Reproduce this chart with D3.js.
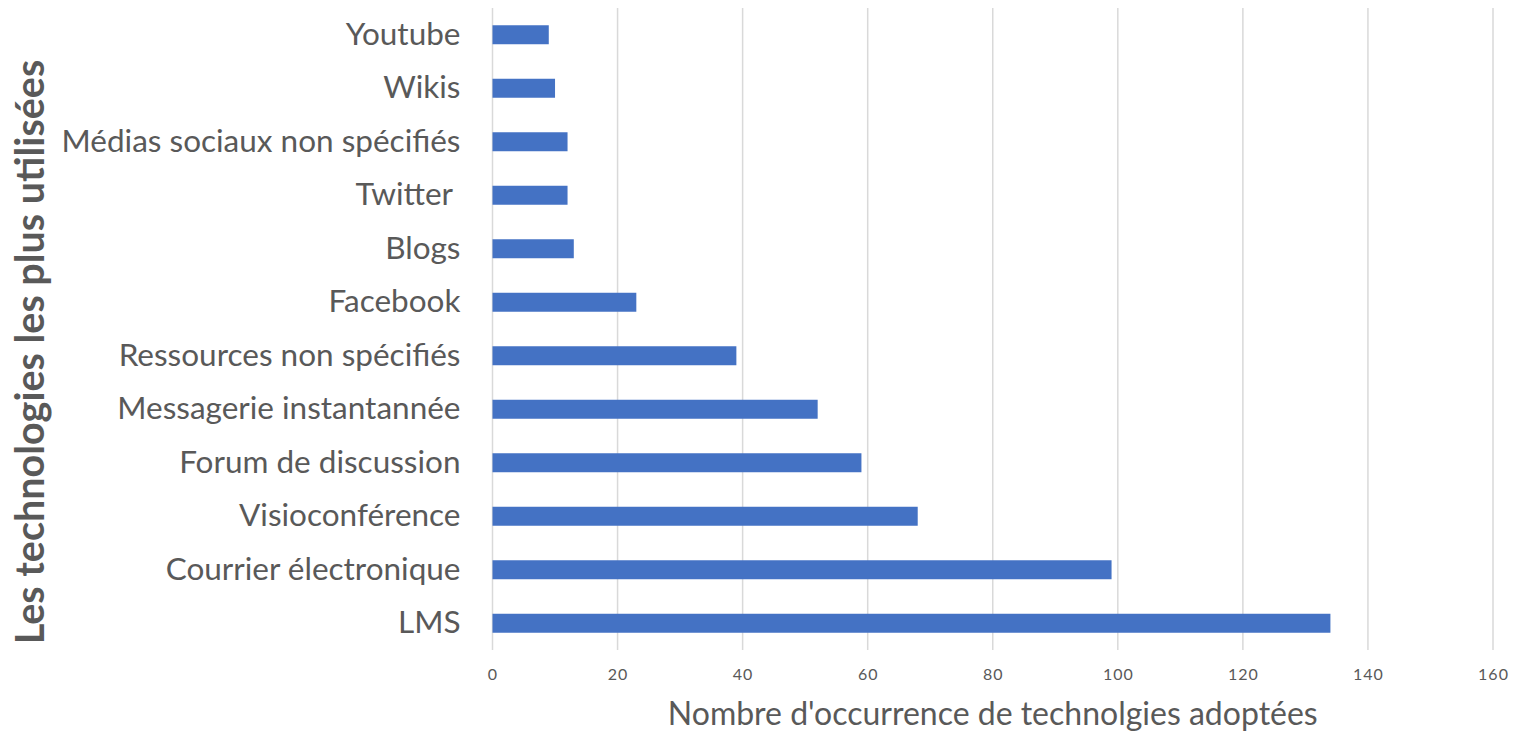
<!DOCTYPE html>
<html>
<head>
<meta charset="utf-8">
<script src="https://cdn.jsdelivr.net/npm/d3@7"></script>
<style>
  body { margin: 0; background: #fff; }
  svg text { font-family: Lato, "Open Sans", sans-serif; fill: #595959; }
</style>
</head>
<body>
<div id="chart"></div>
<script>
// data, bottom to top
const categories = ['LMS', 'Courrier électronique', 'Visioconférence', 'Forum de discussion',
  'Messagerie instantannée', 'Ressources non spécifiés', 'Facebook', 'Blogs', 'Twitter ',
  'Médias sociaux non spécifiés', 'Wikis', 'Youtube'];
const values = [134, 99, 68, 59, 52, 39, 23, 13, 12, 12, 10, 9];
const xTicks = [0, 20, 40, 60, 80, 100, 120, 140, 160];
const xTitle = "Nombre d'occurrence de technolgies adoptées";
const yTitle = 'Les technologies les plus utilisées';

const w = 1514, h = 734;
const plotLeft = 492.5, plotRight = 1493, plotTop = 8, plotBottom = 650;

const svg = d3.select('#chart').append('svg')
    .attr('width', w)
    .attr('height', h);

const xScale = d3.scaleLinear()
    .domain([0, 160])
    .range([plotLeft, plotRight]);

const yScale = d3.scaleBand()
    .domain(categories.slice().reverse())
    .range([plotTop, plotBottom])
    .paddingInner(0.645)
    .paddingOuter(0.3225);

// gridlines
svg.append('g')
    .selectAll('line')
    .data(xTicks)
    .enter()
    .append('line')
    .attr('x1', d => xScale(d))
    .attr('x2', d => xScale(d))
    .attr('y1', plotTop)
    .attr('y2', plotBottom)
    .attr('stroke', '#d9d9d9')
    .attr('stroke-width', 1.5);

// bars
svg.append('g')
    .selectAll('rect')
    .data(categories)
    .enter()
    .append('rect')
    .attr('x', xScale(0))
    .attr('y', d => yScale(d))
    .attr('width', (d, i) => xScale(values[i]) - xScale(0))
    .attr('height', yScale.bandwidth())
    .attr('fill', '#4472c4');

// x axis
const xAxis = d3.axisBottom(xScale).tickValues(xTicks).tickSize(0).tickPadding(19);
const gx = svg.append('g')
    .attr('transform', 'translate(0,' + plotBottom + ')')
    .call(xAxis);
gx.select('.domain').remove();
gx.selectAll('text')
    .style('font-size', '16px')
    .style('letter-spacing', '1px')
    .attr('fill', '#595959');

// y axis
const yAxis = d3.axisLeft(yScale).tickSize(0).tickPadding(32);
const gy = svg.append('g')
    .attr('transform', 'translate(' + plotLeft + ',0)')
    .call(yAxis);
gy.select('.domain').remove();
gy.selectAll('text')
    .attr('xml:space', 'preserve')
    .style('font-size', '31.5px')
    .attr('fill', '#595959');

// axis titles
svg.append('text')
    .attr('x', (plotLeft + plotRight) / 2)
    .attr('y', 725)
    .attr('text-anchor', 'middle')
    .style('font-size', '32px')
    .text(xTitle);

svg.append('text')
    .attr('transform', 'translate(44,352) rotate(-90)')
    .attr('text-anchor', 'middle')
    .style('font-size', '39.5px')
    .style('font-weight', 'bold')
    .text(yTitle);
</script>
</body>
</html>
